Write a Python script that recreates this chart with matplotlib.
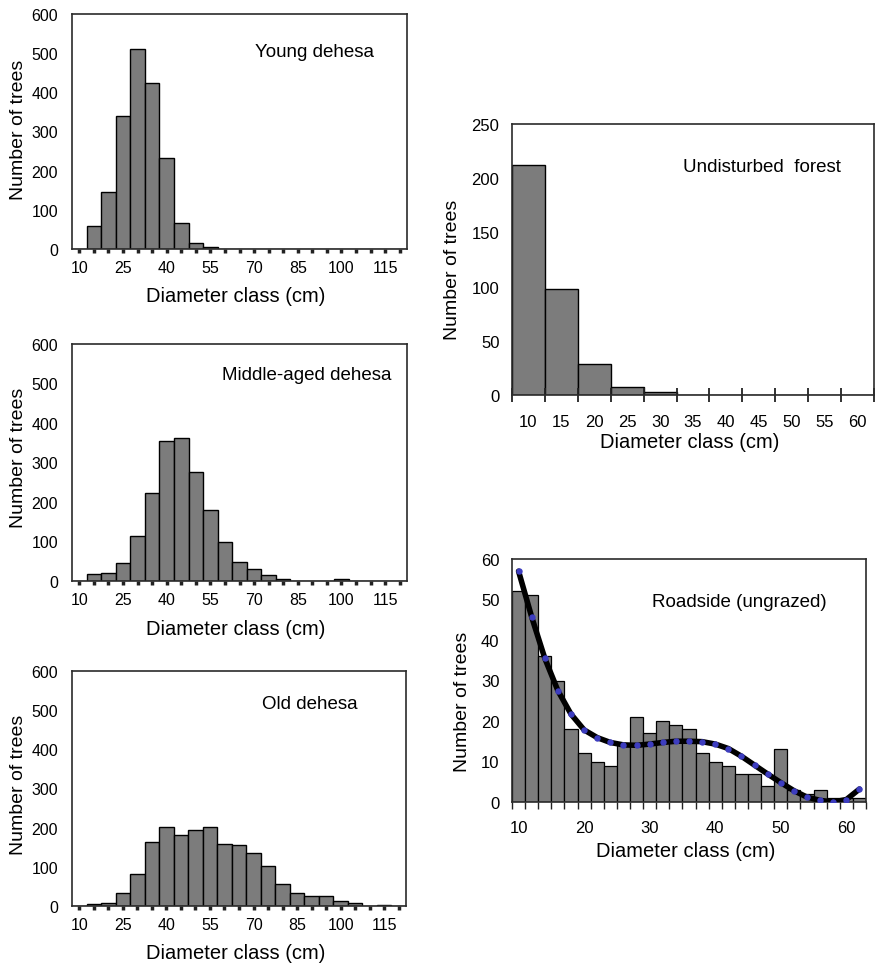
import matplotlib
matplotlib.use("Agg")
import matplotlib.pyplot as plt

plt.rcParams['font.family'] = ['Liberation Sans', 'DejaVu Sans']

# ---- data ----
dehesa_classes = [10, 15, 20, 25, 30, 35, 40, 45, 50, 55, 60, 65, 70, 75, 80, 85,
                  90, 95, 100, 105, 110, 115, 120]
dehesa_labels = [10, 25, 40, 55, 70, 85, 100, 115]
dehesa_yticks = [0, 100, 200, 300, 400, 500, 600]

young = [0, 58, 145, 340, 510, 425, 233, 67, 15, 4, 0, 0, 0, 0, 0, 0,
         0, 0, 0, 0, 0, 0, 0]
middle = [0, 17, 21, 45, 114, 224, 355, 363, 275, 180, 100, 49, 30, 14, 4, 0,
          0, 0, 4, 0, 0, 0, 0]
old = [0, 6, 8, 34, 81, 163, 201, 182, 193, 201, 159, 155, 136, 101, 57, 34,
       25, 25, 12, 7, 0, 3, 0]

forest_classes = [10, 15, 20, 25, 30, 35, 40, 45, 50, 55, 60]
forest = [212, 98, 29, 7, 3, 0, 0, 0, 0, 0, 0]
forest_yticks = [0, 50, 100, 150, 200, 250]

road_classes = [10, 12, 14, 16, 18, 20, 22, 24, 26, 28, 30, 32, 34, 36, 38, 40,
                42, 44, 46, 48, 50, 52, 54, 56, 58, 60, 62]
road = [52, 51, 36, 30, 18, 12, 10, 9, 14, 21, 17, 20, 19, 18, 12, 10,
        9, 7, 7, 4, 13, 3, 2, 3, 1, 1, 1]
road_trend = [57, 45.7, 35.5, 27.5, 21.7, 17.8, 15.9, 14.7, 14.1, 14.0, 14.3, 14.7,
              15.0, 15.0, 14.9, 14.3, 13.2, 11.3, 9.1, 6.9, 4.8, 2.8, 1.2, 0.4,
              0.0, 0.6, 3.2]
road_xticks = [10, 20, 30, 40, 50, 60]
road_yticks = [0, 10, 20, 30, 40, 50, 60]

bar_color = '#7c7c7c'
frame_color = '#2b2b2b'

W, H = 876, 970
fig = plt.figure(figsize=(W / 100, H / 100), dpi=100)


def rect(left, top, right, bottom):
    return [left / W, 1 - bottom / H, (right - left) / W, (bottom - top) / H]


def style_frame(ax):
    for sp in ax.spines.values():
        sp.set_color(frame_color)
        sp.set_linewidth(1.2)


def labels(ax, xlab_y, ylab_x, ylab_y, xlab_x=0.49):
    ax.set_xlabel("Diameter class (cm)", fontsize=14.5)
    ax.xaxis.label.set_va('center')
    ax.xaxis.set_label_coords(xlab_x, xlab_y)
    ax.set_ylabel("Number of trees", fontsize=14)
    ax.yaxis.label.set_va('center')
    ax.yaxis.set_label_coords(ylab_x, ylab_y)


def dehesa_panel(box, values, title, tx, ty, ylab_y):
    ax = fig.add_axes(rect(*box))
    ax.bar(dehesa_classes, values, width=5, color=bar_color,
           edgecolor='black', linewidth=1.0)
    ax.set_xlim(7.5, 122.5)
    ax.set_ylim(0, 600)
    ax.set_xticks(dehesa_classes)
    ax.set_xticklabels([str(c) if c in dehesa_labels else '' for c in dehesa_classes])
    ax.set_yticks(dehesa_yticks)
    ax.tick_params(axis='x', direction='out', length=3, width=2.5,
                   color='#222222', labelsize=11.5, pad=5)
    ax.tick_params(axis='y', length=0, labelsize=11.5, pad=10)
    ax.text(tx, ty, title, transform=ax.transAxes, ha='center', va='center',
            fontsize=13.5)
    style_frame(ax)
    labels(ax, -0.2, -0.161, ylab_y)
    return ax


dehesa_panel((72, 15, 407, 250), young, "Young dehesa", 0.725, 0.842, 0.51)
dehesa_panel((72, 345, 407, 582), middle, "Middle-aged dehesa", 0.70, 0.873, 0.523)
dehesa_panel((72, 672, 406, 907), old, "Old dehesa", 0.713, 0.86, 0.52)

# ---- undisturbed forest ----
ax = fig.add_axes(rect(512, 125, 874, 396))
ax.bar(forest_classes, forest, width=5, color=bar_color, edgecolor='black',
       linewidth=1.0)
ax.set_xlim(7.5, 62.5)
ax.set_ylim(0, 250)
ax.set_xticks(forest_classes)
ax.set_xticks([c - 2.5 for c in forest_classes] + [forest_classes[-1] + 2.5], minor=True)
ax.set_yticks(forest_yticks)
ax.tick_params(axis='x', which='major', length=0, labelsize=12, pad=14)
ax.tick_params(axis='x', which='minor', direction='inout', length=10, width=1.3,
               color='#222222')
ax.tick_params(axis='y', length=0, labelsize=12, pad=9)
ax.text(0.69, 0.845, "Undisturbed  forest", transform=ax.transAxes,
        ha='center', va='center', fontsize=13.5)
style_frame(ax)
labels(ax, -0.173, -0.163, 0.465)

# ---- roadside ----
ax = fig.add_axes(rect(512, 560, 866, 803))
ax.bar(road_classes, road, width=2, color=bar_color, edgecolor='black',
       linewidth=0.9)
# fitted curve: thick black line with blue point markers on top
ax.plot(road_classes, road_trend, color='black', linewidth=4,
        solid_capstyle='round', solid_joinstyle='round', zorder=3)
ax.plot(road_classes, road_trend, linestyle='none', marker='o', markersize=3.6,
        markerfacecolor='#3d3dc0', markeredgecolor='#3d3dc0', zorder=4)
ax.set_xlim(9, 63)
ax.set_ylim(0, 60)
ax.set_xticks(road_xticks)
ax.set_xticks([c - 1 for c in road_classes] + [road_classes[-1] + 1], minor=True)
ax.set_yticks(road_yticks)
ax.tick_params(axis='x', which='major', length=0, labelsize=12, pad=13)
ax.tick_params(axis='x', which='minor', direction='out', length=5, width=1.0,
               color='#222222')
ax.tick_params(axis='y', length=0, labelsize=12, pad=9)
ax.text(0.641, 0.827, "Roadside (ungrazed)", transform=ax.transAxes,
        ha='center', va='center', fontsize=13.5)
style_frame(ax)
labels(ax, -0.2, -0.141, 0.415, xlab_x=0.49)

fig.savefig("out.png", dpi=100)
